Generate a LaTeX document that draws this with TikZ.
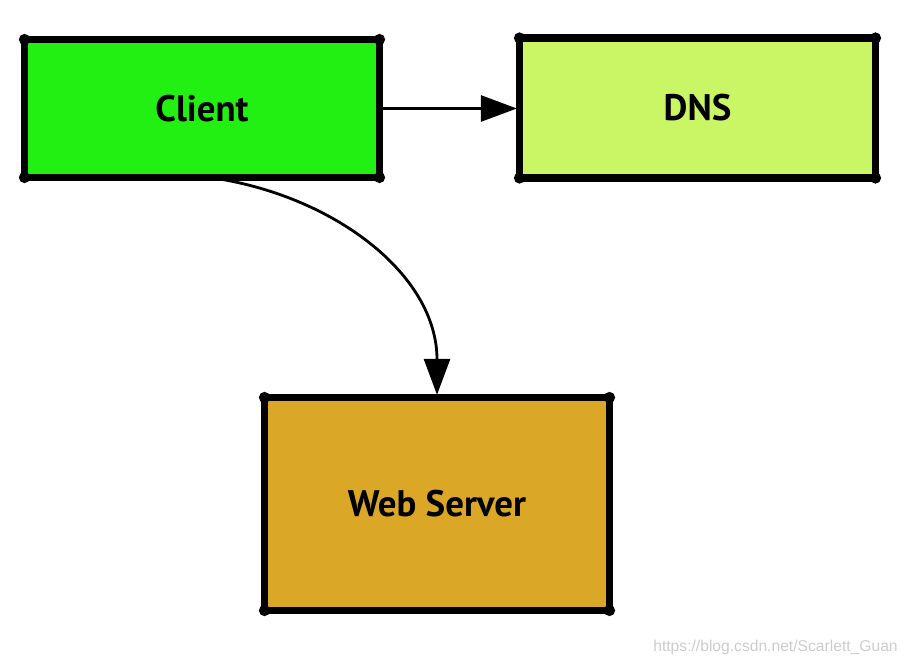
\documentclass[tikz,border=0pt]{standalone}
\usepackage{xcolor}
\usepackage{fontspec}
\usepackage{tikz}
\usetikzlibrary{arrows.meta,positioning,shadows}
\newfontfamily\boxfont{PT Sans}
\newfontfamily\wmfont{Liberation Sans}
\definecolor{clientgreen}{RGB}{34,240,18}
\definecolor{dnsgreen}{RGB}{202,246,102}
\definecolor{webgold}{RGB}{218,168,38}

\begin{document}
\begin{tikzpicture}[
			font=\boxfont\bfseries\fontsize{21}{24}\selectfont,
			>={Triangle[length=0.72cm, width=0.52cm]},
			box/.style={draw, line width=4.2pt, line join=round, outer sep=0pt, align=center, drop shadow={opacity=0.18, shadow xshift=0.03cm, shadow yshift=-0.06cm}},
			flow/.style={->, line width=1.6pt, shorten >=1.5pt}
			]
			\useasboundingbox (0,0) rectangle (18.16,-13.32);
			\node[box, fill=clientgreen, minimum width=7.1cm, minimum height=2.76cm] (client) at (4.04,-2.17) {Client};
			\node[box, fill=dnsgreen, minimum width=7.12cm, minimum height=2.8cm] (dns) at (13.95,-2.16) {DNS};
			\node[box, fill=webgold, minimum width=6.9cm, minimum height=4.26cm] (web) at (8.74,-10.08) {Web Server};
			
			% sketchy corner nubs
			\foreach \b in {client,dns,web}
				\foreach \c in {north west,north east,south west,south east}
					\fill (\b.\c) circle (3.2pt);
			
			\node[font=\wmfont\fontsize{8.9}{11}\selectfont, text=gray!40, anchor=east, inner sep=0pt] (watermark) at (17.96,-12.95) {https://blog.csdn.net/Scarlett\_Guan};
			
			\draw[flow] (client.east) -- (client.east -| dns.west);
			\draw[flow] ([xshift=0.16cm]client.south) to[out=-8, in=90] (web.north);
		\end{tikzpicture}
\end{document}
